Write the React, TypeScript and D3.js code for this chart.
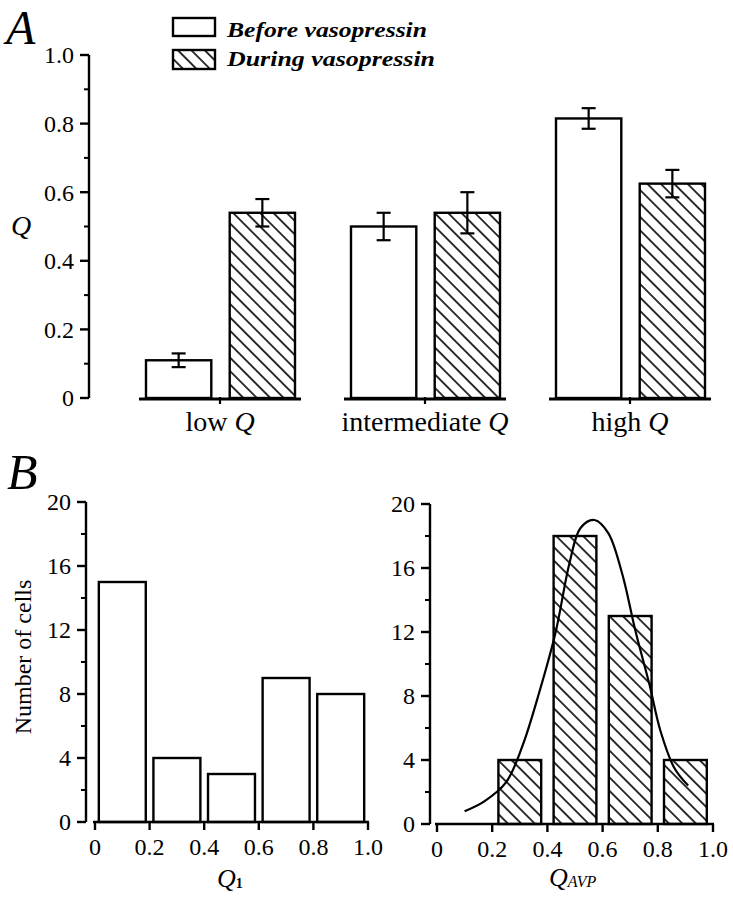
import { line, curveCatmullRom, scaleBand, scaleLinear } from 'd3'

// Panel A: mean Q before / during vasopressin
const categories = ['low', 'intermediate', 'high']
const beforeValues = [0.11, 0.5, 0.815]
const beforeErrors = [0.02, 0.04, 0.03]
const duringValues = [0.54, 0.54, 0.625]
const duringErrors = [0.04, 0.06, 0.04]
const qTicks = [0, 0.2, 0.4, 0.6, 0.8, 1.0]
const qTickLabels = ['0', '0.2', '0.4', '0.6', '0.8', '1.0']

// Panel B: histograms of cells
const binCentersQ1 = [0.1, 0.3, 0.5, 0.7, 0.9]
const countsQ1 = [15, 4, 3, 9, 8]
const binCentersAVP = [0.3, 0.5, 0.7, 0.9]
const countsAVP = [4, 18, 13, 4]
const countTicks = [0, 4, 8, 12, 16, 20]
const fracTicks = [0, 0.2, 0.4, 0.6, 0.8, 1.0]
const fracTickLabels = ['0', '0.2', '0.4', '0.6', '0.8', '1.0']

// fitted curve on the AVP histogram
const fitX = [0.1, 0.17, 0.25, 0.31, 0.37, 0.43, 0.48, 0.52, 0.57, 0.62, 0.67, 0.72, 0.77, 0.81, 0.86, 0.91]
const fitY = [0.8, 1.4, 2.6, 4.9, 8.2, 12.0, 16.3, 18.5, 19.0, 18.2, 15.7, 12.0, 8.7, 5.8, 3.5, 2.4]

const FONT = "'Liberation Serif', 'Times New Roman', Times, 'Nimbus Roman', 'DejaVu Serif', serif"
const SW = 2.4

function YAxis({ x, scale, ticks, labels, minor }: any) {
  const [lo, hi] = scale.domain()
  return (
    <g>
      <line x1={x} x2={x} y1={scale(hi)} y2={scale(lo)} stroke="#000" strokeWidth={SW} />
      {minor.map((t: number) => (
        <line key={`m${t}`} x1={x - 5} x2={x} y1={scale(t)} y2={scale(t)} stroke="#000" strokeWidth={2} />
      ))}
      {ticks.map((t: number, i: number) => (
        <g key={t}>
          <line x1={x - 9} x2={x} y1={scale(t)} y2={scale(t)} stroke="#000" strokeWidth={SW} />
          <text x={x - 15} y={scale(t)} dy="0.35em" textAnchor="end" fontSize={24}>
            {labels[i]}
          </text>
        </g>
      ))}
    </g>
  )
}

function XAxis({ y, scale }: any) {
  return (
    <g>
      <line x1={scale(0) - 2} x2={scale(1) + 1} y1={y} y2={y} stroke="#000" strokeWidth={SW} />
      {fracTicks.map((t, i) => (
        <g key={t}>
          <line x1={scale(t)} x2={scale(t)} y1={y} y2={y + 8} stroke="#000" strokeWidth={SW} />
          <text x={scale(t)} y={y + 33} textAnchor="middle" fontSize={24}>
            {fracTickLabels[i]}
          </text>
        </g>
      ))}
    </g>
  )
}

export default function App() {
  // Panel A scales
  const yA = scaleLinear().domain([0, 1]).range([398, 55])
  const groupX = scaleBand<string>().domain(categories).range([117.5, 732.5]).padding(0)
  const minorA = yA.ticks(10).filter((t) => !qTicks.some((q) => Math.abs(q - t) < 1e-9))

  // Panel B scales
  const xL = scaleLinear().domain([0, 1]).range([95, 368])
  const yL = scaleLinear().domain([0, 20]).range([822, 502])
  const xR = scaleLinear().domain([0, 1]).range([437, 713])
  const yR = scaleLinear().domain([0, 20]).range([824, 504])
  const minorB = [2, 6, 10, 14, 18]

  const fitPath = line<number>()
    .x((_, i) => xR(fitX[i]))
    .y((d) => yR(d))
    .curve(curveCatmullRom.alpha(0.5))(fitY)

  return (
    <div style={{ position: 'absolute', left: 0, top: 0 }}>
      <svg width={733} height={899} style={{ display: 'block', background: '#fff', fontFamily: FONT }}>
        <defs>
          <pattern id="hatch" width={9.5} height={9.5} patternUnits="userSpaceOnUse" patternTransform="rotate(45)">
            <line x1={0} x2={9.5} y1={4.75} y2={4.75} stroke="#000" strokeWidth={1.6} />
          </pattern>
        </defs>
        <rect width={733} height={899} fill="#fff" />

        {/* Panel A */}
        <text x={6} y={44} fontSize={48} fontStyle="italic">A</text>
        <rect x={173} y={18} width={42} height={18} fill="#fff" stroke="#000" strokeWidth={SW} />
        <rect x={173} y={50} width={42} height={19} fill="url(#hatch)" stroke="#000" strokeWidth={SW} />
        <text x={227} y={37} fontSize={22} fontStyle="italic" fontWeight="bold" textLength={200} lengthAdjust="spacingAndGlyphs">
          Before vasopressin
        </text>
        <text x={227} y={66} fontSize={22} fontStyle="italic" fontWeight="bold" textLength={208} lengthAdjust="spacingAndGlyphs">
          During vasopressin
        </text>

        <YAxis x={89} scale={yA} ticks={qTicks} labels={qTickLabels} minor={minorA} />
        <text x={11} y={235} fontSize={28} fontStyle="italic">Q</text>

        {categories.map((c, i) => {
          const center = (groupX(c) ?? 0) + groupX.bandwidth() / 2
          const inner = scaleBand<string>()
            .domain(['before', 'during'])
            .range([center - 74, center + 75])
            .paddingInner(0.22)
          const bw = inner.bandwidth()
          const series = [
            { key: 'before', v: beforeValues[i], e: beforeErrors[i], fill: '#fff' },
            { key: 'during', v: duringValues[i], e: duringErrors[i], fill: 'url(#hatch)' },
          ]
          return (
            <g key={c}>
              {series.map((s) => {
                const bx = inner(s.key) ?? 0
                const cx = bx + bw / 2
                return (
                  <g key={s.key}>
                    <rect x={bx} y={yA(s.v)} width={bw} height={yA(0) - yA(s.v)} fill={s.fill} stroke="#000" strokeWidth={SW} />
                    <line x1={cx} x2={cx} y1={yA(s.v + s.e)} y2={yA(s.v - s.e)} stroke="#000" strokeWidth={2.2} />
                    <line x1={cx - 7} x2={cx + 7} y1={yA(s.v + s.e)} y2={yA(s.v + s.e)} stroke="#000" strokeWidth={2.2} />
                    <line x1={cx - 7} x2={cx + 7} y1={yA(s.v - s.e)} y2={yA(s.v - s.e)} stroke="#000" strokeWidth={2.2} />
                  </g>
                )
              })}
              <line x1={center - 81} x2={center + 81} y1={yA(0) + 1} y2={yA(0) + 1} stroke="#000" strokeWidth={2.8} />
              <line x1={center} x2={center} y1={yA(0) - 1} y2={yA(0) + 6} stroke="#000" strokeWidth={2.2} />
              <text x={center} y={431} textAnchor="middle" fontSize={28}>
                {c} <tspan fontStyle="italic">Q</tspan>
              </text>
            </g>
          )
        })}

        {/* Panel B */}
        <text x={7} y={489} fontSize={50} fontStyle="italic">B</text>

        {/* left histogram */}
        {binCentersQ1.map((c, i) => (
          <rect
            key={c}
            x={xL(c - 0.086)}
            y={yL(countsQ1[i])}
            width={xL(0.172) - xL(0)}
            height={yL(0) - yL(countsQ1[i])}
            fill="#fff"
            stroke="#000"
            strokeWidth={SW}
          />
        ))}
        <YAxis x={86} scale={yL} ticks={countTicks} labels={countTicks.map(String)} minor={minorB} />
        <XAxis y={822} scale={xL} />
        <text transform="translate(31,657) rotate(-90)" textAnchor="middle" fontSize={24}>Number of cells</text>
        <text x={217} y={887} fontSize={26} fontStyle="italic">
          Q<tspan fontSize={14} fontStyle="normal" fontWeight="bold" dy={1}>1</tspan>
        </text>

        {/* right histogram */}
        {binCentersAVP.map((c, i) => (
          <rect
            key={c}
            x={xR(c - 0.0775)}
            y={yR(countsAVP[i])}
            width={xR(0.155) - xR(0)}
            height={yR(0) - yR(countsAVP[i])}
            fill="url(#hatch)"
            stroke="#000"
            strokeWidth={SW}
          />
        ))}
        <path d={fitPath ?? ''} fill="none" stroke="#000" strokeWidth={2.2} />
        <YAxis x={430} scale={yR} ticks={countTicks} labels={countTicks.map(String)} minor={minorB} />
        <XAxis y={824} scale={xR} />
        <text x={549} y={886} fontSize={26} fontStyle="italic">
          Q<tspan fontSize={16} dy={1}>AVP</tspan>
        </text>
      </svg>
    </div>
  )
}
